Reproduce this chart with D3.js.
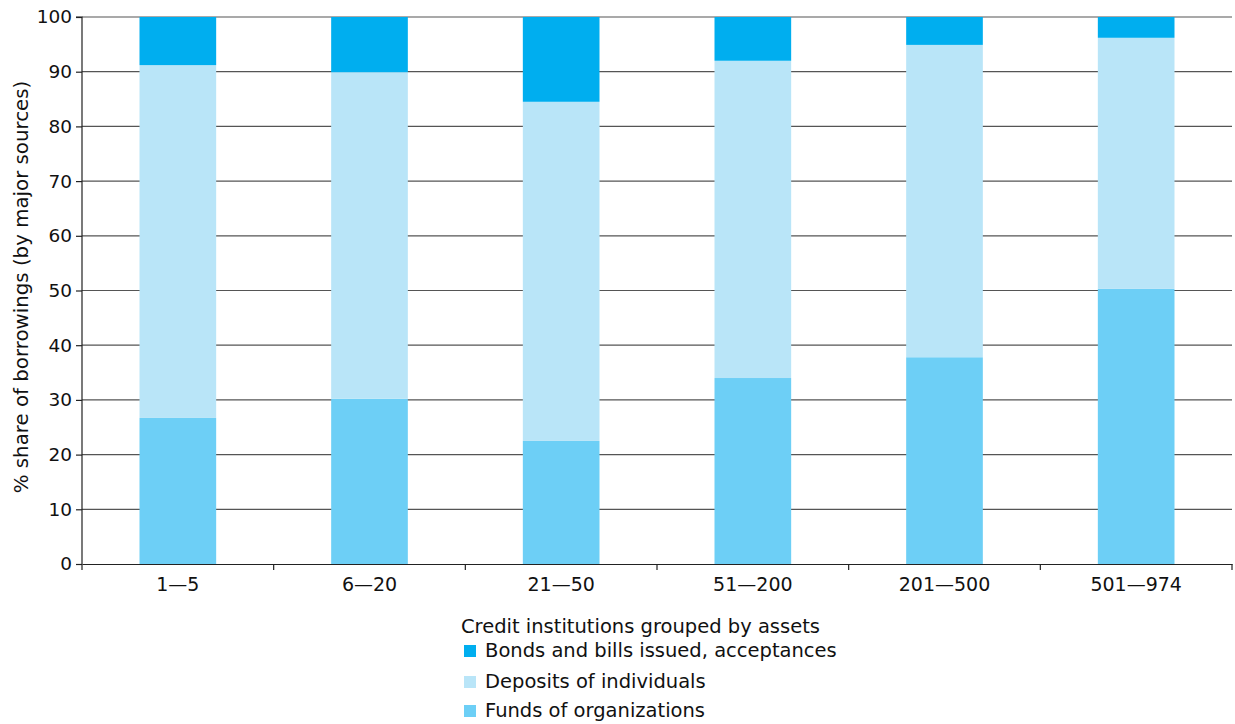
<!DOCTYPE html>
<html><head><meta charset="utf-8">
<script src="https://cdn.jsdelivr.net/npm/d3@7"></script>
<style>body{margin:0;background:#fff;} svg{display:block;font-family:"DejaVu Sans",sans-serif;}</style>
</head><body><svg id="c" width="1235" height="724"></svg>
<script>
const categories = ["1—5","6—20","21—50","51—200","201—500","501—974"];
const funds = [26.7, 30.2, 22.5, 34.0, 37.8, 50.3];
const deposits = [64.5, 59.7, 62.0, 58.0, 57.1, 45.9];
const bonds = [8.8, 10.1, 15.5, 8.0, 5.1, 3.8];
const seriesNames = ["Funds of organizations","Deposits of individuals","Bonds and bills issued, acceptances"];
const seriesColors = ["#6dcff6","#b9e5f8","#00aeef"];
const yTicks = [0,10,20,30,40,50,60,70,80,90,100];

const FONT = "DejaVu Sans, sans-serif";
const svg = d3.select("#c");
const m = {l:82, r:1232, t:17, b:564};
const x = d3.scaleBand().domain(categories).range([m.l,m.r]).paddingInner(0.6).paddingOuter(0.3);
const xEdge = d3.scaleBand().domain(categories).range([m.l,m.r]);
const y = d3.scaleLinear().domain([0,100]).range([m.b,m.t]);

// grid
svg.append("g").selectAll("line").data(yTicks.filter(d=>d>0)).join("line")
  .attr("x1",m.l).attr("x2",m.r).attr("y1",d=>y(d)).attr("y2",d=>y(d))
  .attr("stroke","#555").attr("stroke-width",1.2);

const table = categories.map((c,i)=>({cat:c, f:funds[i], d:deposits[i], b:bonds[i]}));
const stack = d3.stack().keys(["f","d","b"])(table);
svg.append("g").selectAll("g").data(stack).join("g").attr("fill",(d,i)=>seriesColors[i])
  .selectAll("rect").data(d=>d).join("rect")
  .attr("x",d=>x(d.data.cat)).attr("width",x.bandwidth())
  .attr("y",d=>y(d[1])).attr("height",d=>y(d[0])-y(d[1]));

// y axis
const ya = svg.append("g").attr("transform",`translate(${m.l},0)`)
  .call(d3.axisLeft(y).tickValues(yTicks).tickSize(6).tickPadding(4));
ya.select(".domain").attr("stroke","#222").attr("stroke-width",1.2).attr("d",`M-6,${m.t}H0V${m.b}`);
ya.selectAll(".tick line").attr("stroke","#222").attr("stroke-width",1.2);
ya.selectAll("text").attr("font-size",18.5).attr("fill","#111").attr("font-family",FONT);

// x axis
const xa = svg.append("g").attr("transform",`translate(0,${m.b})`)
  .call(d3.axisBottom(x).tickSize(0).tickPadding(14));
xa.select(".domain").attr("stroke","#222").attr("stroke-width",1.2);
xa.selectAll("text").attr("font-size",19).attr("fill","#111").attr("font-family",FONT);
svg.append("g").selectAll("line").data(categories.concat(["end"])).join("line")
  .attr("x1",d=>d==="end"?m.r:xEdge(d)).attr("x2",d=>d==="end"?m.r:xEdge(d)).attr("y1",m.b).attr("y2",m.b+6)
  .attr("stroke","#222").attr("stroke-width",1.2);

// y label
svg.append("text").attr("transform",`translate(28,${287}) rotate(-90)`)
  .attr("text-anchor","middle").attr("font-size",19.8).attr("fill","#111").attr("font-family",FONT)
  .text("% share of borrowings (by major sources)");

// legend
svg.append("text").attr("x",461).attr("y",633).attr("font-size",19.5).attr("fill","#111").attr("font-family",FONT)
  .text("Credit institutions grouped by assets");
const legOrder = [2,1,0];
const legY = [657,688,717];
const lg = svg.append("g").selectAll("g").data(legOrder).join("g")
  .attr("transform",(d,i)=>`translate(464,${legY[i]})`);
lg.append("rect").attr("x",0).attr("y",-12).attr("width",12).attr("height",12).attr("fill",d=>seriesColors[d]);
lg.append("text").attr("x",21).attr("y",0).attr("font-size",19.5).attr("fill","#111").attr("font-family",FONT).text(d=>seriesNames[d]);
</script></body></html>
